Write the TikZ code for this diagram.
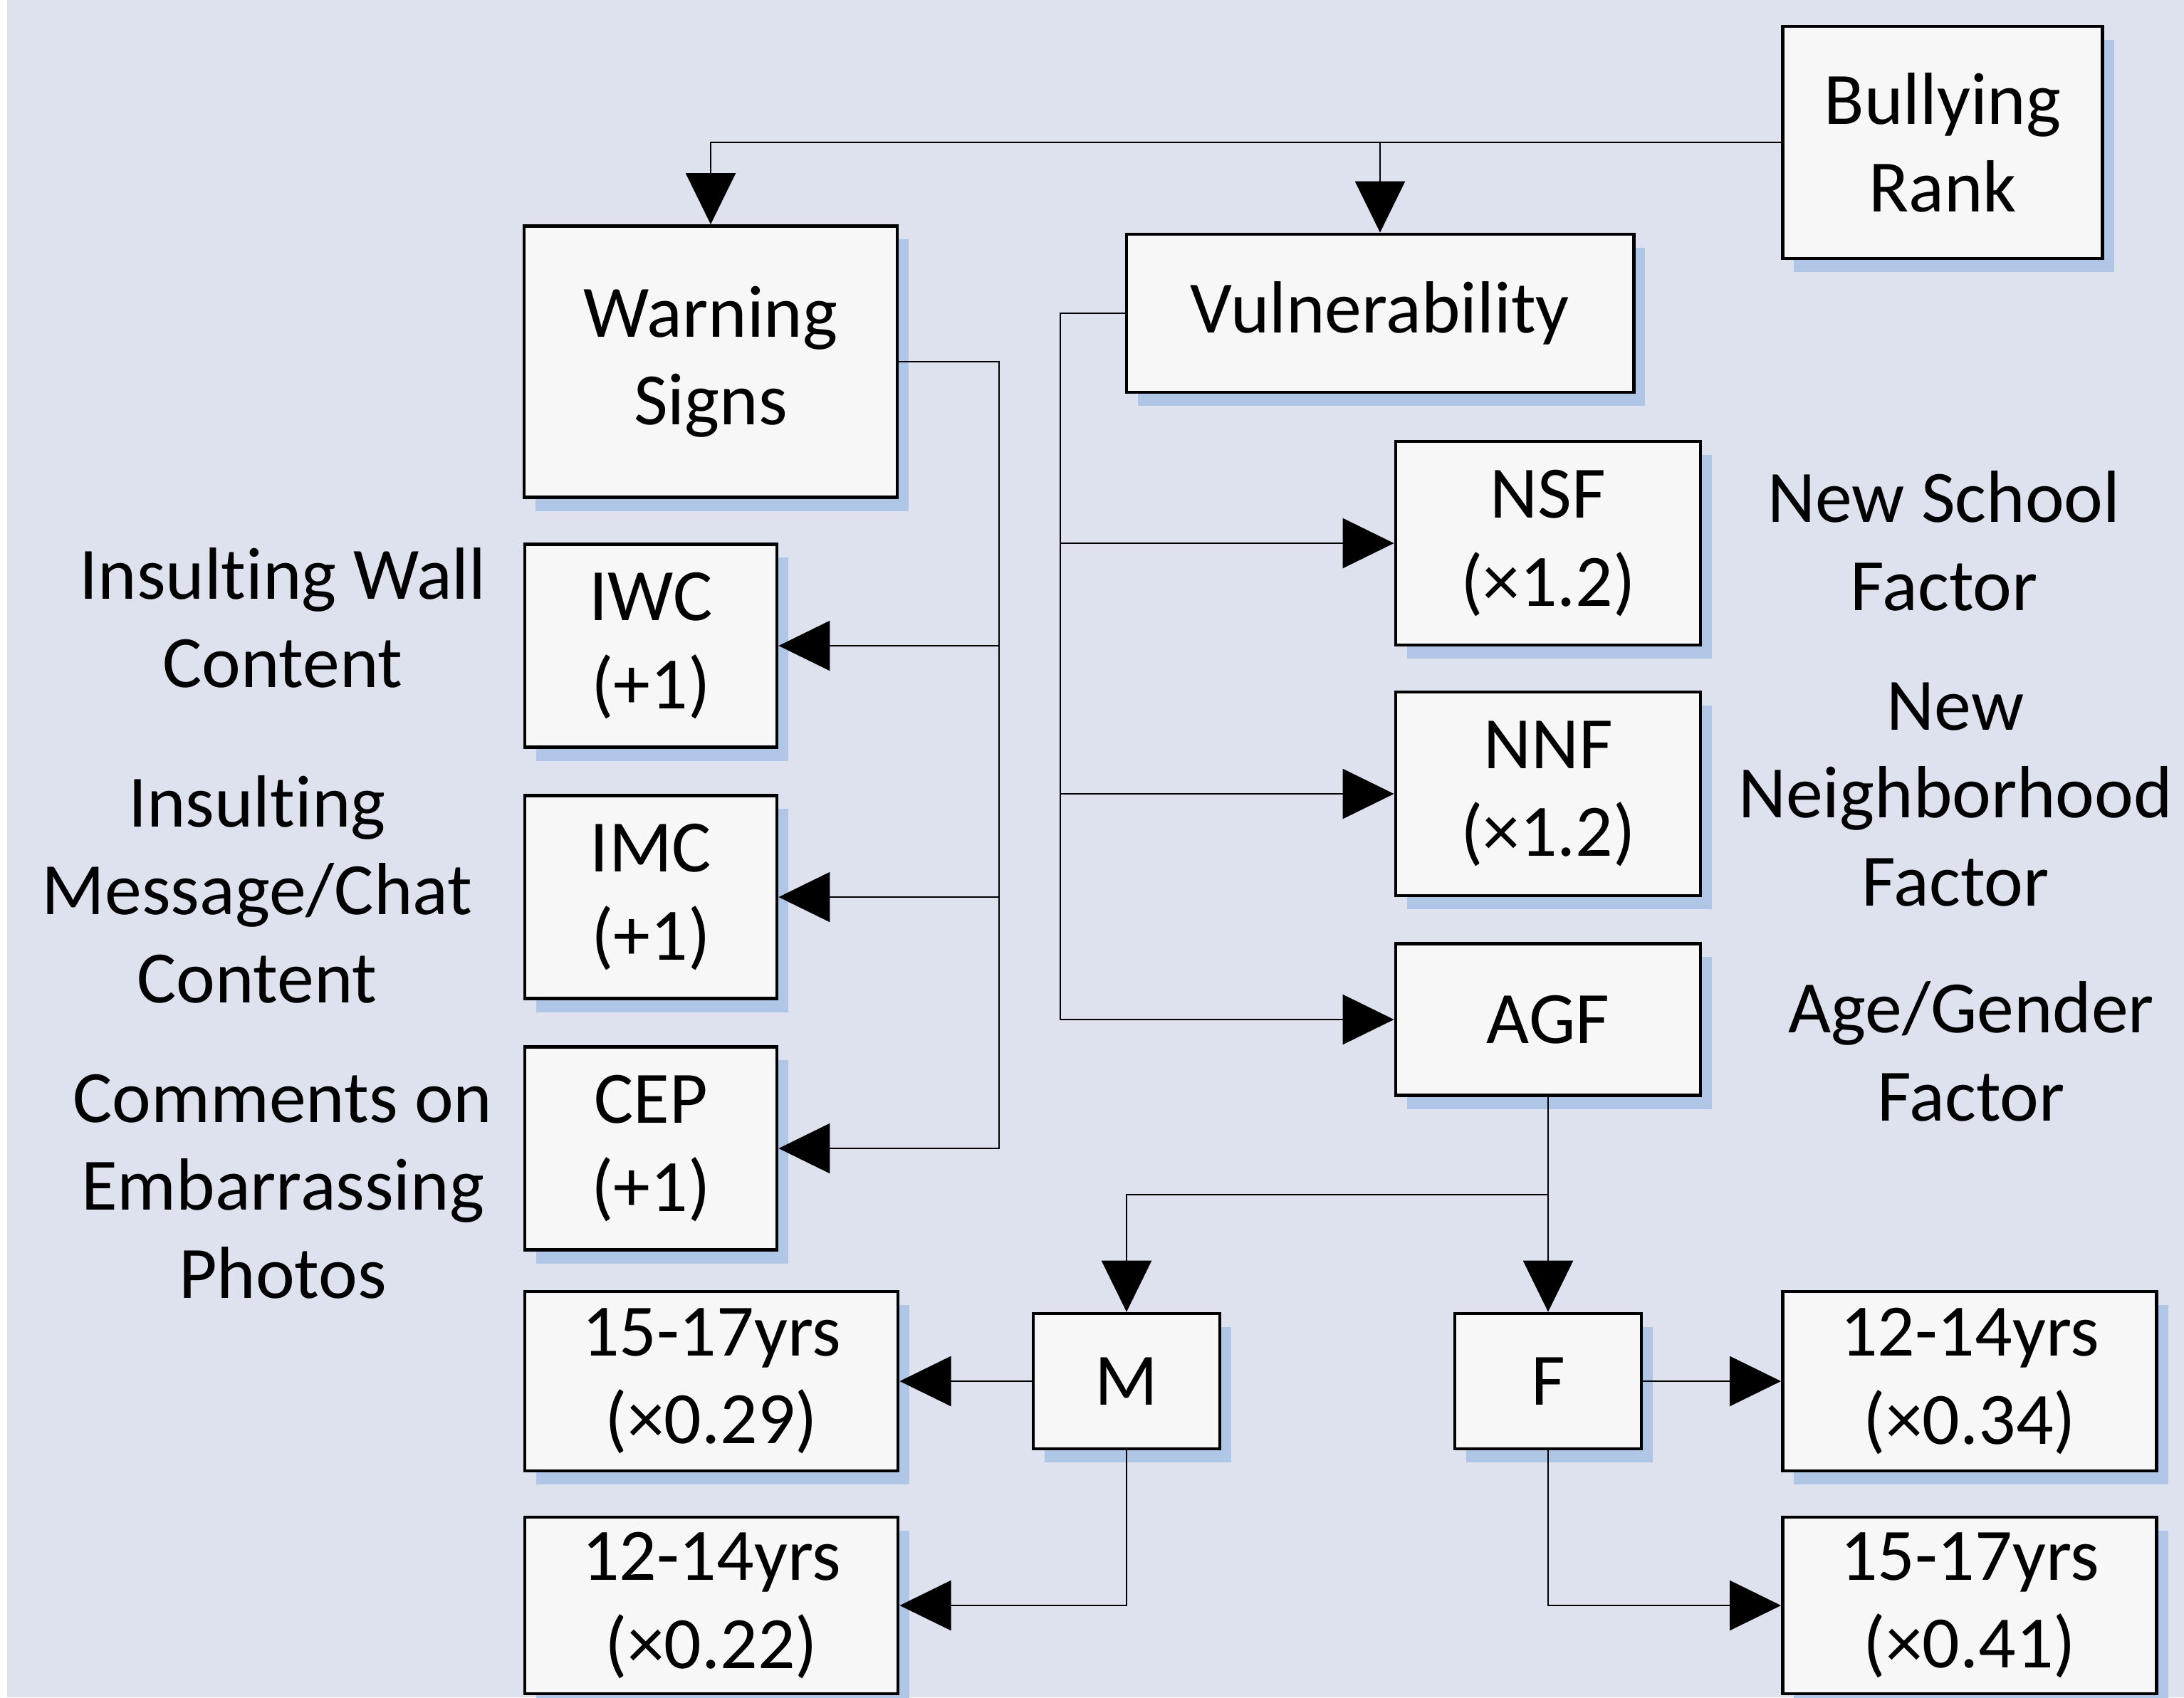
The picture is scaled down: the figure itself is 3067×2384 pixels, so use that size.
\documentclass[tikz,border=0pt]{standalone}
\usepackage{fontspec}
\setmainfont{Carlito}[RawFeature = -liga]
\usetikzlibrary{arrows.meta, shadows}

\definecolor{paper}{RGB}{222,226,238}
\definecolor{boxfill}{RGB}{247,247,247}
\definecolor{shade}{RGB}{176,198,230}

\tikzstyle{block} = [draw, line width = 1.3pt, fill = boxfill, inner sep = 0pt,
                     align = center,
                     drop shadow = {shadow xshift = 0.16cm, shadow yshift = -0.19cm,
                                    fill = shade, opacity = 1}]
\tikzstyle{sidetext} = [align = center, anchor = base, inner sep = 0pt]
\tikzstyle{wire} = [line width = 0.7pt]
\tikzstyle{link} = [wire, -{Triangle[length = 7.2mm, width = 7mm]}]

\begin{document}
\begin{tikzpicture}[x = 0.01cm, y = -0.01cm, font = \fontsize{29.5}{35}\selectfont]
      \useasboundingbox (0, 0) rectangle (3067, 2384);
      \fill[paper] (10, 0) rectangle (3067, 2384);

      % Top level
      \node[block, minimum width = 4.49cm, minimum height = 3.26cm] (rank) at (2728, 200) {Bullying\\Rank};
      \node[block, minimum width = 5.24cm, minimum height = 3.81cm] (warn) at ( 998, 508) {Warning\\Signs};
      \node[block, minimum width = 7.12cm, minimum height = 2.22cm] (vuln) at (1938, 440) {Vulnerability};

      % Warning signs (labels sit on their last baseline)
      \node[block, minimum width = 3.54cm, minimum height = 2.85cm] (iwc) at (914,  907) {IWC\\(+1)};
      \node[block, minimum width = 3.54cm, minimum height = 2.85cm] (imc) at (914, 1260) {IMC\\(+1)};
      \node[block, minimum width = 3.54cm, minimum height = 2.85cm] (cep) at (914, 1613) {CEP\\(+1)};
      \node[sidetext] at (397,  965) {Insulting Wall\\Content};
      \node[sidetext] at (361, 1408) {Insulting\\Message/Chat\\Content};
      \node[sidetext] at (397, 1823) {Comments on\\Embarrassing\\Photos};

      % Vulnerability factors
      \node[block, minimum width = 4.28cm, minimum height = 2.86cm] (nsf) at (2174,  763) {NSF\\(×1.2)};
      \node[block, minimum width = 4.28cm, minimum height = 2.86cm] (nnf) at (2174, 1115) {NNF\\(×1.2)};
      \node[block, minimum width = 4.28cm, minimum height = 2.13cm] (agf) at (2174, 1432) {AGF};
      \node[sidetext] at (2730,  857) {New School\\Factor};
      \node[sidetext] at (2746, 1272) {New\\Neighborhood\\Factor};
      \node[sidetext] at (2768, 1574) {Age/Gender\\Factor};

      % Age and gender
      \node[block, minimum width = 2.62cm, minimum height = 1.90cm] (m) at (1582, 1940) {M};
      \node[block, minimum width = 2.62cm, minimum height = 1.90cm] (f) at (2174, 1940) {F};
      \node[block, minimum width = 5.24cm, minimum height = 2.52cm] (mold)   at ( 999, 1940) {15-17yrs\\(×0.29)};
      \node[block, minimum width = 5.24cm, minimum height = 2.48cm] (myoung) at ( 999, 2255) {12-14yrs\\(×0.22)};
      \node[block, minimum width = 5.25cm, minimum height = 2.52cm] (fyoung) at (2766, 1940) {12-14yrs\\(×0.34)};
      \node[block, minimum width = 5.25cm, minimum height = 2.48cm] (fold)   at (2766, 2255) {15-17yrs\\(×0.41)};

      % Connectors
      \coordinate (wbus)  at (1403,  508);
      \coordinate (vbus)  at (1489,  440);
      \coordinate (split) at (2174, 1678);
      \draw[link] (rank.west) -| (warn.north);
      \draw[link] (rank.west -| vuln.north) -- (vuln.north);
      \foreach \n in {iwc, imc, cep}
      {
        \draw[link] (warn.east) -- (wbus) |- (\n.east);
      }
      \foreach \n in {nsf, nnf, agf}
      {
        \draw[link] (vuln.west) -- (vbus) |- (\n.west);
      }
      \draw[link] (agf.south) -- (f.north);
      \draw[link] (split) -| (m.north);
      \draw[link] (m.west) -- (mold.east);
      \draw[link] (m.south) |- (myoung.east);
      \draw[link] (f.east) -- (fyoung.west);
      \draw[link] (f.south) |- (fold.west);
\end{tikzpicture}
\end{document}
